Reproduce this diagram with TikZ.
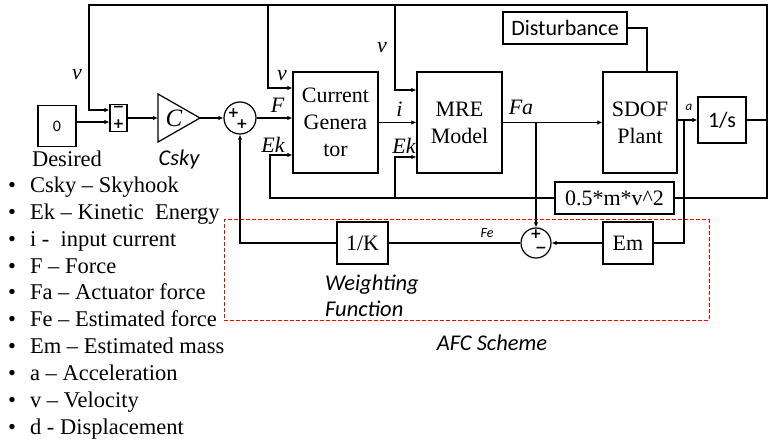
\documentclass[tikz,border=0pt]{standalone}
\usepackage{fontspec}
\setmainfont{Liberation Serif}
\newfontfamily\calibri{Carlito}
\newfontfamily\symfont{DejaVu Sans}
\usetikzlibrary{arrows.meta, positioning, calc}

\begin{document}
\begin{tikzpicture}[x=1pt, y=-1pt,
    block/.style={
        rectangle, draw, line width=1.2pt, inner sep=0pt,
        align=center, font=\fontsize{22}{27}\selectfont
    },
    sumnode/.style={circle, draw, line width=1.2pt, inner sep=0pt},
    sig/.style={font=\fontsize{22}{24}\selectfont\itshape, inner sep=0pt},
    sanslbl/.style={font=\calibri\itshape\fontsize{22.5}{26}\selectfont,
        inner sep=0pt, align=left},
    sign/.style={font=\symfont\bfseries\fontsize{14}{14}\selectfont, inner sep=0pt},
    wire/.style={line width=1.2pt},
    arr/.style={wire, -{Latex[length=5pt, width=4.5pt]}}
]
\useasboundingbox (0,0) rectangle (772,441);

% --- Skyhook controller ---
\node[block, minimum width=38, minimum height=41] (desired) at (57,126)
      {\calibri\fontsize{16}{16}\selectfont 0};
\node[font=\fontsize{22.5}{24}\selectfont, inner sep=0pt] (desiredlbl) at (67,159) {Desired};
\node[block, minimum width=17, minimum height=27] (diff) at (118.5,118) {};
\node[sign] (diffminus) at (118.5,109) {−};
\node[sign] (diffplus) at (118.5,124) {+};
\draw[line width=1.2pt] (158,94) -- (200,118) -- (158,142) -- cycle;
\coordinate (gainin) at (158,118);
\coordinate (gainout) at (200,118);
\node[sig, font=\fontsize{25}{25}\selectfont\itshape] (gain) at (174,118) {C};
\node[sanslbl] (csky) at (179,160) {Csky};
\node[sumnode, minimum size=32] (sum) at (240,118) {};
\node[sign] (sumplusa) at (233.5,113) {+};
\node[sign] (sumplusb) at (242,124.5) {+};

% --- MR damper ---
\node[block, minimum width=85, minimum height=101] (curgen) at (335.5,122.5)
      {Current\\Genera\\tor};
\node[block, minimum width=85, minimum height=101] (mre) at (459.5,122.5)
      {MRE\\Model};
\node[block, minimum width=74, minimum height=101] (sdof) at (640,122.5)
      {SDOF\\Plant};
\node[block, minimum width=124, minimum height=32, font=\calibri\fontsize{22}{24}\selectfont]
      (dist) at (565,28) {Disturbance};
\node[block, minimum width=48, minimum height=46, font=\calibri\fontsize{22}{24}\selectfont]
      (integ) at (722,120) {1/s};
\node[block, minimum width=119, minimum height=32] (kin) at (614.5,198)
      {0.5*m*v\textasciicircum 2};

% --- AFC scheme ---
\node[draw=red, line width=1pt, dash pattern=on 4pt off 2pt, minimum width=485,
      minimum height=100] (afc) at (466.5,270) {};
\node[sumnode, minimum size=30] (fesum) at (536,243) {};
\node[sign] (feplus) at (536,234) {+};
\node[sign] (feminus) at (541,249.5) {−};
\node[block, minimum width=50, minimum height=42] (em) at (628,243) {Em};
\node[block, minimum width=51, minimum height=42] (wfun) at (362.5,243) {1/K};
\node[sanslbl] (wfunlbl) at (372,296) {Weighting\\Function};
\node[sanslbl] (afclbl) at (492,343) {AFC Scheme};

% --- Legend ---
\node[anchor=north west, inner sep=0pt, align=left,
      font=\fontsize{22.5}{26.9}\selectfont] (legend) at (8,176.5)
      {•\hspace{14pt}Csky – Skyhook\\
       •\hspace{14pt}Ek – Kinetic\ \ Energy\\
       •\hspace{14pt}i -\ \ input current\\
       •\hspace{14pt}F – Force\\
       •\hspace{14pt}Fa – Actuator force\\
       •\hspace{14pt}Fe – Estimated force\\
       •\hspace{14pt}Em – Estimated mass\\
       •\hspace{14pt}a – Acceleration\\
       •\hspace{14pt}v – Velocity\\
       •\hspace{14pt}d - Displacement};

% --- Coordinates of branch points ---
\coordinate (vnode) at (767,120);
\coordinate (vtop) at (767,5);
\coordinate (vleft) at (89,5);
\coordinate (vcg) at (268,5);
\coordinate (vmre) at (395,5);
\coordinate (ekcg) at (270,198);
\coordinate (ekmre) at (395,198);
\coordinate (fabranch) at (fesum.north |- mre.east);
\coordinate (abranch) at (684,120);

% --- Arrows ---
\draw[arr] (desired.east |- 0,122) -- (diff.west |- 0,122);
\draw[arr] (diff.east) -- (gainin);
\draw[arr] (gainout) -- (sum.west);
\draw[arr] (sum.east) -- (sum.east -| curgen.west)
      node[sig, midway, above=5pt, xshift=3pt] {F};
\draw[arr] (integ.east) -- (vnode) -- (vtop) -- (vleft) |- (diff.west |- 0,110);
\node[sig] at (77,75) {v};
\draw[arr] (vcg) |- (curgen.west |- 0,88);
\node[sig] at (282,76) {v};
\draw[arr] (vmre) |- (mre.west |- 0,90);
\node[sig] at (382,48) {v};
\draw[wire] (vnode) |- (kin.east);
\draw[arr] (kin.west) -- (ekcg) |- (curgen.west |- 0,155);
\node[sig] at (273,145) {Ek};
\draw[arr] (ekmre) |- (mre.west |- 0,157);
\node[sig] at (404,146) {Ek};
\draw[arr] (curgen.east) -- (curgen.east -| mre.west)
      node[sig, midway, above=5pt, xshift=2pt] {i};
\draw[arr] (mre.east) -- (mre.east -| sdof.west);
\node[sig] at (521,107) {Fa};
\draw[arr] (fabranch) -- (fesum.north);
\draw[wire] (dist.east) -| ($(sdof.north)+(7,0)$);
\draw[arr] (sdof.east |- integ.west) -- (integ.west);
\node[sanslbl, font=\calibri\itshape\fontsize{13}{13}\selectfont] at (689,107) {a};
\draw[wire] (abranch) |- (em.east);
\draw[arr] (em.west) -- (fesum.east);
\draw[wire] (fesum.west) -- (fesum.west -| wfun.east);
\node[sanslbl, font=\calibri\itshape\fontsize{14}{14}\selectfont] at (487,233) {Fe};
\draw[arr] (wfun.west) -| (sum.south);
\end{tikzpicture}
\end{document}
